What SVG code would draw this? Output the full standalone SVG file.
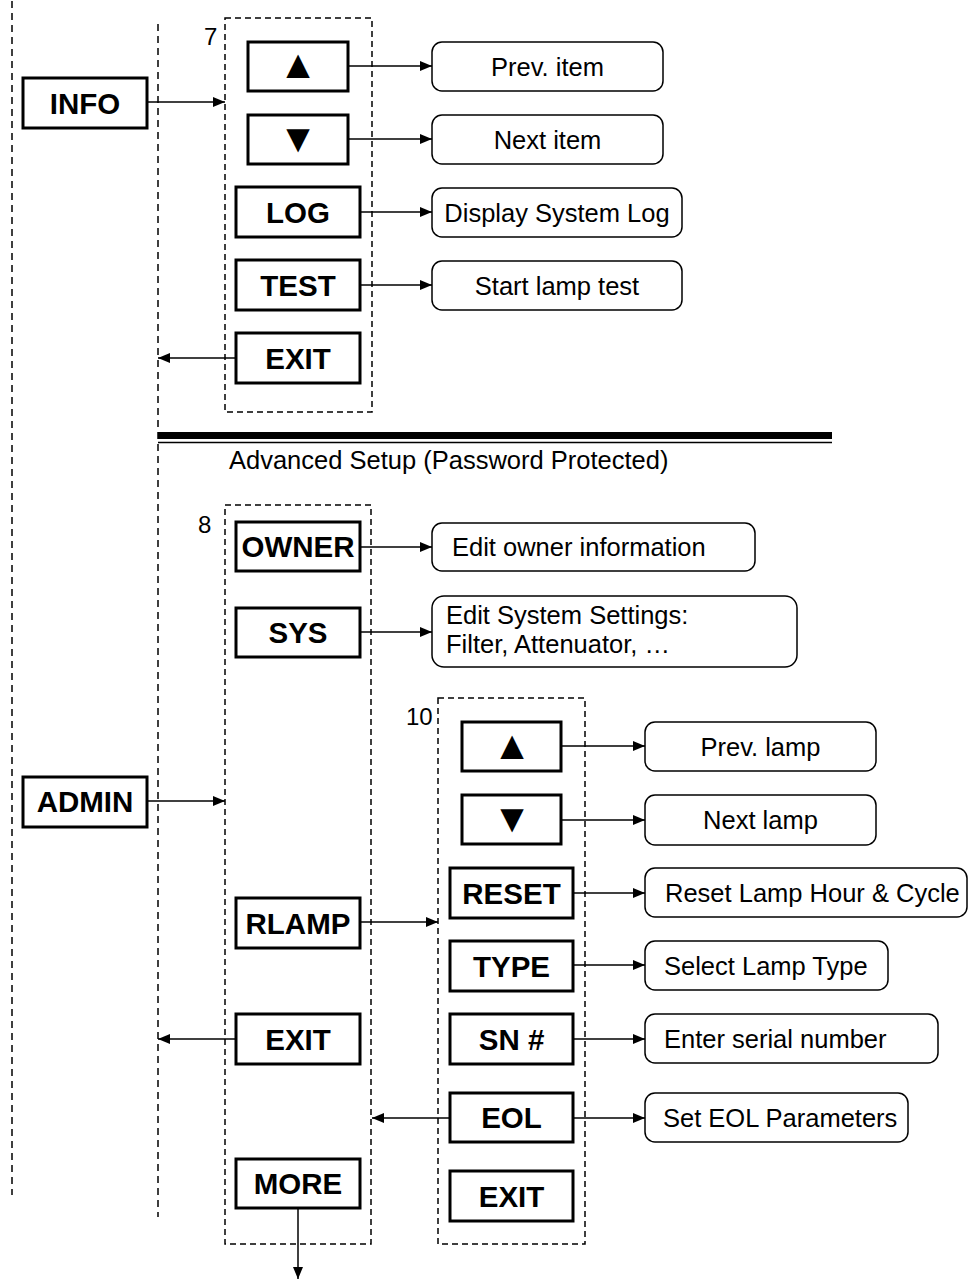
<svg xmlns="http://www.w3.org/2000/svg" width="971" height="1281" viewBox="0 0 971 1281">
<defs>
<marker id="ah" markerUnits="userSpaceOnUse" markerWidth="12" markerHeight="10" refX="12" refY="5" orient="auto">
<path d="M0,0 L12,5 L0,10 z" fill="#000"/>
</marker>
<style>
.btn{fill:#fff;stroke:#000;stroke-width:3}
.desc{fill:#fff;stroke:#000;stroke-width:1.5}
.grp{fill:none;stroke:#000;stroke-width:1.5;stroke-dasharray:6 4}
.vl{fill:none;stroke:#000;stroke-width:1.5;stroke-dasharray:7 5}
.b{font-family:"Liberation Sans",Arial,sans-serif;font-weight:bold;font-size:29.5px;text-anchor:middle;fill:#000}
.t{font-family:"Liberation Sans",Arial,sans-serif;font-size:25.5px;fill:#000}
.c{text-anchor:middle}
.tri{font-family:"Liberation Sans","DejaVu Sans",sans-serif;font-size:40px;text-anchor:middle;fill:#000}
.cn{fill:none;stroke:#000;stroke-width:1.5;marker-end:url(#ah)}
</style>
</defs>
<rect width="971" height="1281" fill="#fff"/>

<g id="lanes">
<line class="vl" x1="12" y1="1" x2="12" y2="1195"/>
<line class="vl" x1="158" y1="24" x2="158" y2="1217"/>
<rect x="158" y="432" width="674" height="7" fill="#000"/>
<line x1="158" y1="442.5" x2="832" y2="442.5" stroke="#000" stroke-width="1.5"/>
<text class="t" x="229" y="469">Advanced Setup (Password Protected)</text>
</g>

<g id="group7">
<rect class="grp" x="225" y="18" width="147" height="394"/>
<text class="t" x="204" y="45" style="font-size:24px">7</text>
</g>
<g id="group8">
<rect class="grp" x="225" y="505" width="146" height="739"/>
<text class="t" x="198" y="533" style="font-size:24px">8</text>
</g>
<g id="group10">
<rect class="grp" x="438" y="698" width="147" height="546"/>
<text class="t" x="406" y="725" style="font-size:24px">10</text>
</g>

<g id="info"><rect class="btn" x="23" y="78" width="124" height="50"/><text class="b" x="85" y="113.5">INFO</text></g>
<g id="admin"><rect class="btn" x="23" y="777" width="124" height="50"/><text class="b" x="85" y="812">ADMIN</text></g>

<g id="up7"><rect class="btn" x="248" y="42" width="100" height="49"/><text class="tri" x="298" y="78">▲</text></g>
<g id="down7"><rect class="btn" x="248" y="115" width="100" height="49"/><text class="tri" x="298" y="152">▼</text></g>
<g id="log"><rect class="btn" x="236" y="187" width="124" height="50"/><text class="b" x="298" y="222.5">LOG</text></g>
<g id="test"><rect class="btn" x="236" y="260" width="124" height="50"/><text class="b" x="298" y="295.5">TEST</text></g>
<g id="exit7"><rect class="btn" x="236" y="333" width="124" height="50"/><text class="b" x="298" y="368.5">EXIT</text></g>

<g id="prevItem"><rect class="desc" x="432" y="42" width="231" height="49" rx="10"/><text class="t c" x="547.5" y="75.5">Prev. item</text></g>
<g id="nextItem"><rect class="desc" x="432" y="115" width="231" height="49" rx="10"/><text class="t c" x="547.5" y="148.5">Next item</text></g>
<g id="dispLog"><rect class="desc" x="432" y="188" width="250" height="49" rx="10"/><text class="t c" x="557" y="221.5">Display System Log</text></g>
<g id="lampTest"><rect class="desc" x="432" y="261" width="250" height="49" rx="10"/><text class="t c" x="557" y="294.5">Start lamp test</text></g>

<g id="owner"><rect class="btn" x="236" y="522" width="124" height="49"/><text class="b" x="298" y="557">OWNER</text></g>
<g id="sys"><rect class="btn" x="236" y="608" width="124" height="49"/><text class="b" x="298" y="643">SYS</text></g>
<g id="rlamp"><rect class="btn" x="236" y="898" width="124" height="50"/><text class="b" x="298" y="933.5">RLAMP</text></g>
<g id="exit8"><rect class="btn" x="236" y="1014" width="124" height="50"/><text class="b" x="298" y="1049.5">EXIT</text></g>
<g id="more"><rect class="btn" x="236" y="1159" width="124" height="49"/><text class="b" x="298" y="1194">MORE</text></g>

<g id="editOwner"><rect class="desc" x="432" y="523" width="323" height="48" rx="10"/><text class="t" x="452" y="556">Edit owner information</text></g>
<g id="editSys"><rect class="desc" x="432" y="596" width="365" height="71" rx="12"/><text class="t" x="446" y="624">Edit System Settings:</text><text class="t" x="446" y="653">Filter, Attenuator, …</text></g>

<g id="up10"><rect class="btn" x="462" y="722" width="99" height="49"/><text class="tri" x="512" y="759">▲</text></g>
<g id="down10"><rect class="btn" x="462" y="795" width="99" height="49"/><text class="tri" x="512" y="832">▼</text></g>
<g id="reset"><rect class="btn" x="450" y="868" width="123" height="50"/><text class="b" x="511.5" y="903.5">RESET</text></g>
<g id="type"><rect class="btn" x="450" y="941" width="123" height="50"/><text class="b" x="511.5" y="976.5">TYPE</text></g>
<g id="sn"><rect class="btn" x="450" y="1014" width="123" height="50"/><text class="b" x="511.5" y="1049.5">SN #</text></g>
<g id="eol"><rect class="btn" x="450" y="1093" width="123" height="49"/><text class="b" x="511.5" y="1128">EOL</text></g>
<g id="exit10"><rect class="btn" x="450" y="1171" width="123" height="50"/><text class="b" x="511.5" y="1206.5">EXIT</text></g>

<g id="prevLamp"><rect class="desc" x="645" y="722" width="231" height="49" rx="10"/><text class="t c" x="760.5" y="755.5">Prev. lamp</text></g>
<g id="nextLamp"><rect class="desc" x="645" y="795" width="231" height="50" rx="10"/><text class="t c" x="760.5" y="829">Next lamp</text></g>
<g id="resetLamp"><rect class="desc" x="645" y="868" width="322" height="49" rx="10"/><text class="t" x="665" y="901.5">Reset Lamp Hour &amp; Cycle</text></g>
<g id="selType"><rect class="desc" x="645" y="941" width="243" height="49" rx="10"/><text class="t" x="664" y="974.5">Select Lamp Type</text></g>
<g id="enterSn"><rect class="desc" x="645" y="1014" width="293" height="49" rx="10"/><text class="t" x="664" y="1047.5">Enter serial number</text></g>
<g id="setEol"><rect class="desc" x="645" y="1093" width="263" height="49" rx="10"/><text class="t" x="663" y="1126.5">Set EOL Parameters</text></g>

<g id="connectors">
<line class="cn" x1="147" y1="102" x2="225" y2="102"/>
<line class="cn" x1="348" y1="66" x2="432" y2="66"/>
<line class="cn" x1="348" y1="139" x2="432" y2="139"/>
<line class="cn" x1="360" y1="212" x2="432" y2="212"/>
<line class="cn" x1="360" y1="285" x2="432" y2="285"/>
<line class="cn" x1="236" y1="358" x2="158" y2="358"/>
<line class="cn" x1="147" y1="801" x2="225" y2="801"/>
<line class="cn" x1="360" y1="547" x2="432" y2="547"/>
<line class="cn" x1="360" y1="632" x2="432" y2="632"/>
<line class="cn" x1="360" y1="922" x2="438" y2="922"/>
<line class="cn" x1="236" y1="1039" x2="158" y2="1039"/>
<line class="cn" x1="298" y1="1208" x2="298" y2="1279"/>
<line class="cn" x1="561" y1="746" x2="645" y2="746"/>
<line class="cn" x1="561" y1="820" x2="645" y2="820"/>
<line class="cn" x1="573" y1="893" x2="645" y2="893"/>
<line class="cn" x1="573" y1="965" x2="645" y2="965"/>
<line class="cn" x1="573" y1="1039" x2="645" y2="1039"/>
<line class="cn" x1="573" y1="1118" x2="645" y2="1118"/>
<line class="cn" x1="450" y1="1118" x2="372" y2="1118"/>
</g>
</svg>
